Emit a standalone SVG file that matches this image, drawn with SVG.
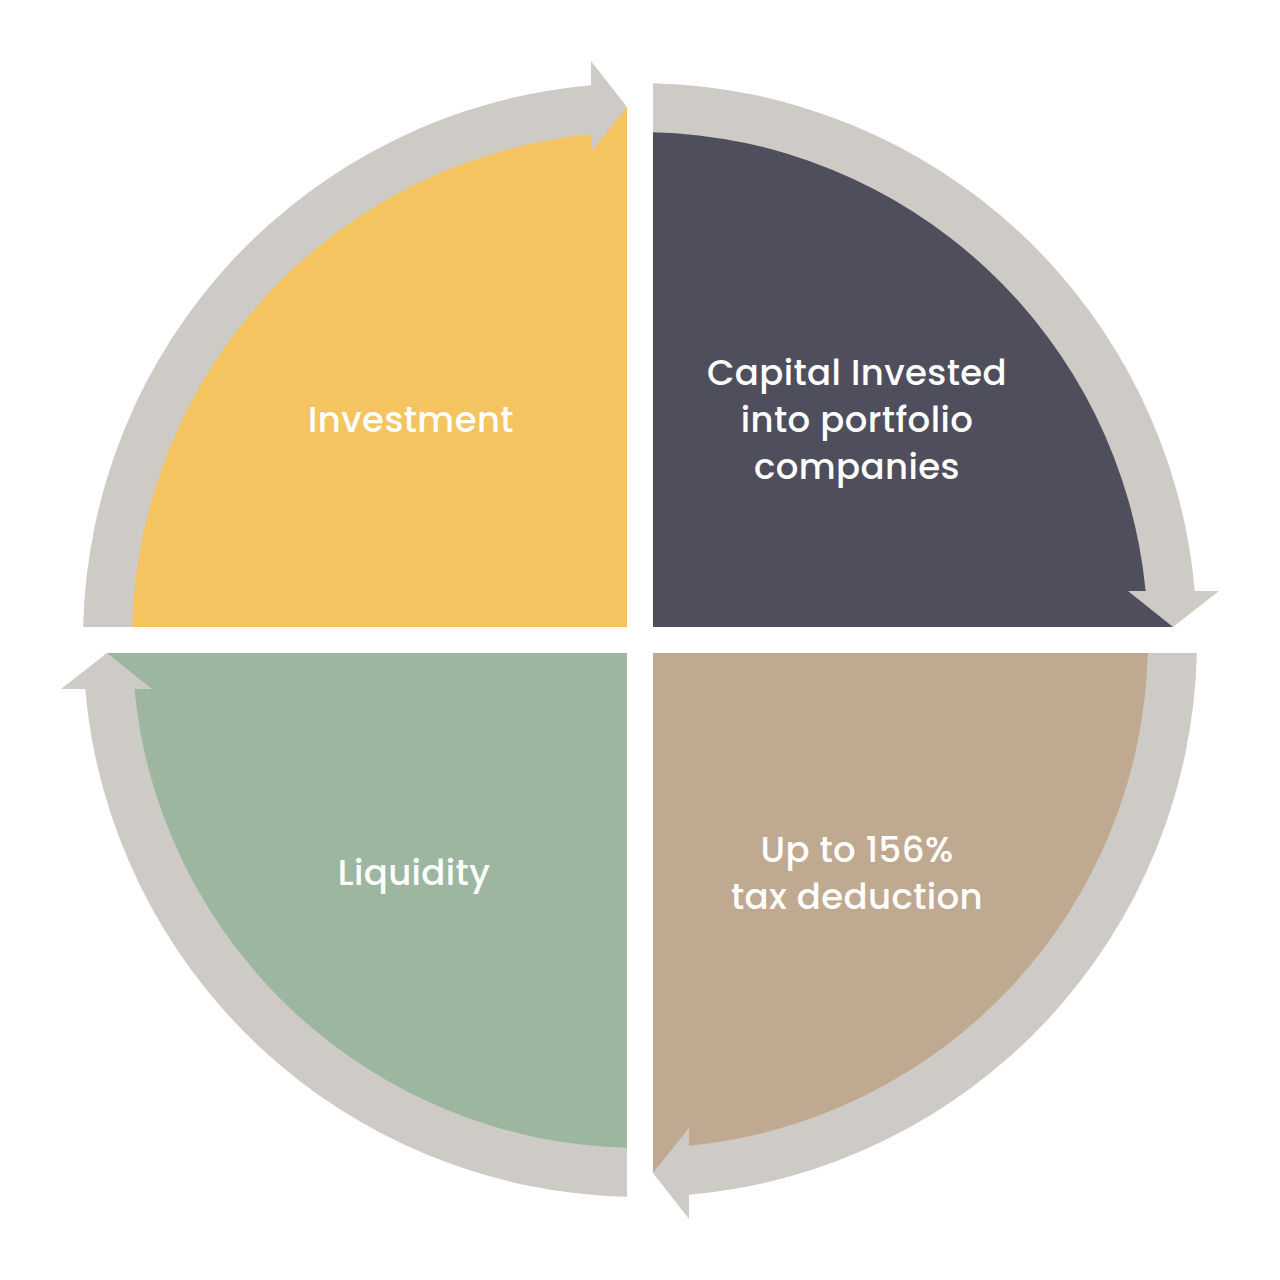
<svg xmlns="http://www.w3.org/2000/svg" width="1280" height="1280" viewBox="0 0 1280 1280">
<style>
.lbl{font-family:"Poppins","Inter","Noto Sans",sans-serif;font-size:35.5px;font-weight:500;letter-spacing:0.4px;fill:#ffffff;text-anchor:middle}
.ring{fill:#CECBC6}
</style>
<rect width="1280" height="1280" fill="#ffffff"/>
<g id="investment">
<path d="M627,627 L107.16,627 A533,533 0 0 1 627,107.16 Z" fill="#F4C460"/>
<text class="lbl" x="411" y="432">Investment</text>
</g>
<g id="capital-invested">
<path d="M653,627 L653,107.16 A533,533 0 0 1 1172.84,627 Z" fill="#4F4E5C"/>
<text class="lbl" x="857" y="385">Capital Invested</text>
<text class="lbl" x="857" y="432">into portfolio</text>
<text class="lbl" x="857" y="479">companies</text>
</g>
<g id="tax-deduction">
<path d="M653,653 L1172.84,653 A533,533 0 0 1 653,1172.84 Z" fill="#BFA991"/>
<text class="lbl" x="857" y="862">Up to 156%</text>
<text class="lbl" x="857" y="909">tax deduction</text>
</g>
<g id="liquidity">
<path d="M627,653 L627,1172.84 A533,533 0 0 1 107.16,653 Z" fill="#9CB6A0"/>
<text class="lbl" x="414" y="885">Liquidity</text>
</g>
<g id="connectors">
<path class="ring" d="M83.15,627 A557,557 0 0 1 591,85.16 L591,61 L627,107 L591,152 L591,134.37 A508,508 0 0 0 132.17,627 Z"/>
<path class="ring" d="M653,83.15 A557,557 0 0 1 1194.84,591 L1219,591 L1173,627 L1128,591 L1145.63,591 A508,508 0 0 0 653,132.17 Z"/>
<path class="ring" d="M1196.85,653 A557,557 0 0 1 689,1194.84 L689,1219 L653,1173 L689,1128 L689,1145.63 A508,508 0 0 0 1147.83,653 Z"/>
<path class="ring" d="M627,1196.85 A557,557 0 0 1 85.16,689 L61,689 L107,653 L152,689 L134.37,689 A508,508 0 0 0 627,1147.83 Z"/>
</g>
</svg>
